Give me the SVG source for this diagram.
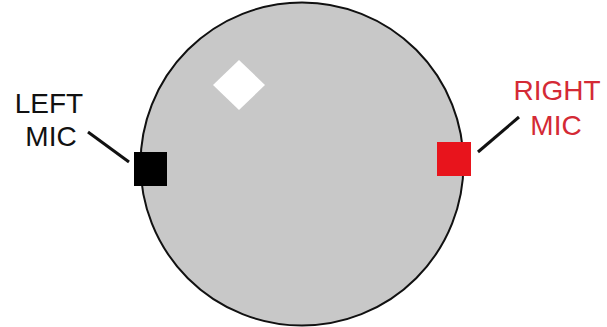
<svg xmlns="http://www.w3.org/2000/svg" width="607" height="327" viewBox="0 0 607 327">
<style>
.lbl{font-family:"Liberation Sans",Arial,sans-serif;font-size:28px;text-anchor:middle}
.lead{stroke:#111;stroke-width:3;fill:none}
</style>
<rect width="607" height="327" fill="#fff"/>
<g id="head">
<circle cx="302" cy="164" r="161.5" fill="#c8c8c8" stroke="#111" stroke-width="2"/>
<polygon points="239,60 265,85 239,110 213,85" fill="#fff"/>
</g>
<g id="connectors">
<line class="lead" x1="88" y1="132" x2="129" y2="162"/>
<line class="lead" x1="478" y1="152" x2="519" y2="117"/>
</g>
<g id="left-mic">
<rect x="134" y="152" width="33" height="34" fill="#000"/>
<text class="lbl" x="49" y="113" fill="#111">LEFT</text>
<text class="lbl" x="51" y="146" fill="#111">MIC</text>
</g>
<g id="right-mic">
<rect x="437" y="142" width="34" height="34" fill="#e8141c"/>
<text class="lbl" x="557" y="100" fill="#d42a35">RIGHT</text>
<text class="lbl" x="556" y="135" fill="#d42a35">MIC</text>
</g>
</svg>
